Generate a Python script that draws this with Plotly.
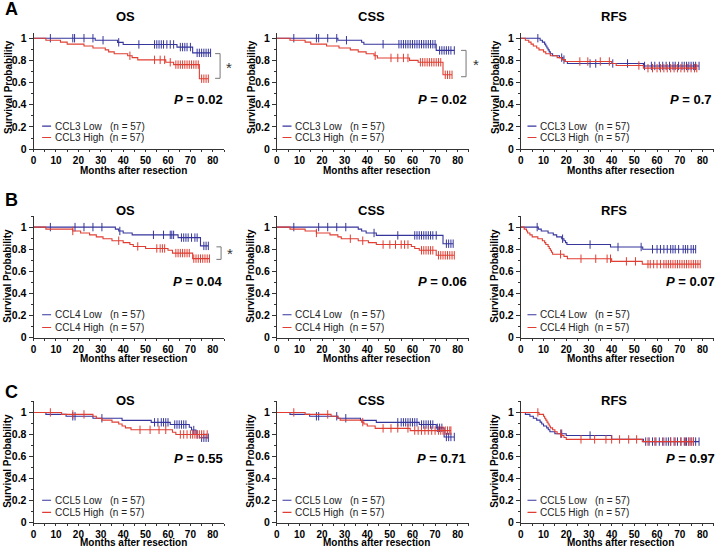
import plotly.graph_objects as go

# ---------------- data (months, survival levels, censor times) ----------------
GENES = ["CCL3", "CCL4", "CCL5"]
ENDPOINTS = ["OS", "CSS", "RFS"]
ROW_LETTERS = ["A", "B", "C"]
P_VALUES = [["0.02", "0.02", "0.7"], ["0.04", "0.06", "0.07"], ["0.55", "0.71", "0.97"]]
X_TICKS = [0, 10, 20, 30, 40, 50, 60, 70, 80]
Y_TICKS = [0, 0.2, 0.4, 0.6, 0.8, 1]

# Row A: CCL3
A_OS_low_t = [27.5, 37.5, 40, 64, 71]
A_OS_low_s = [0.982, 0.963, 0.944, 0.92, 0.868]
A_OS_low_c = [7.5, 17.5, 18.3, 22.5, 26.5, 31, 38, 47, 54, 55, 56, 57, 58, 59.5, 61, 62.5, 65.5, 66.5, 67.5, 68.5, 70, 73, 74, 75, 76, 77, 78, 79]
A_OS_high_t = [5.5, 12, 15, 22.5, 26.5, 32, 33.5, 36, 42, 44, 46.5, 59, 62.5, 74]
A_OS_high_s = [0.982, 0.965, 0.947, 0.93, 0.912, 0.895, 0.877, 0.86, 0.842, 0.825, 0.805, 0.783, 0.762, 0.635]
A_OS_high_c = [43, 54, 56.5, 58.5, 61, 63.5, 64.5, 65.5, 66.5, 67.5, 68.5, 69.5, 70.5, 71.5, 72.5, 73.5, 75, 76, 77, 78]

A_CSS_low_t = [27, 37.5, 38.5, 70.5]
A_CSS_low_s = [0.982, 0.964, 0.946, 0.89]
A_CSS_low_c = [7.5, 17.5, 18.5, 22.5, 26.5, 30.8, 47, 54, 55, 56, 57, 58, 59, 60, 61, 62, 63, 64, 65, 66, 67, 68, 69, 70, 72, 73, 74, 75, 76, 77, 78.5]
A_CSS_high_t = [5.8, 12.5, 15, 22, 27.5, 32.5, 36, 39.5, 43, 44.5, 58.7, 62.5, 73.5]
A_CSS_high_s = [0.982, 0.965, 0.947, 0.93, 0.912, 0.895, 0.877, 0.86, 0.842, 0.822, 0.80, 0.783, 0.67]
A_CSS_high_c = [43.5, 50.5, 53.5, 56, 58, 63.5, 64.5, 65.5, 66.5, 67.5, 68.5, 69.5, 70.5, 71.5, 72.5, 74.5, 75.5, 76.5, 77.5]

A_RFS_low_t = [8.5, 9.5, 10.5, 11, 11.5, 12, 12.5, 13, 14, 17, 18.5, 19.5, 20.5, 54]
A_RFS_low_s = [0.982, 0.965, 0.947, 0.93, 0.912, 0.895, 0.877, 0.86, 0.842, 0.825, 0.807, 0.79, 0.772, 0.75]
A_RFS_low_c = [7.5, 18, 19, 30.5, 33, 40.5, 47, 54.5, 57.5, 59, 61, 62.5, 64, 65.5, 67, 68, 69.5, 71, 72, 73, 74, 75, 76, 77, 78.5]
A_RFS_high_t = [2, 3.5, 4.5, 5.5, 7, 8, 10, 11, 13, 16, 18, 19.5, 40, 42, 54]
A_RFS_high_s = [0.982, 0.965, 0.947, 0.93, 0.912, 0.895, 0.877, 0.86, 0.842, 0.825, 0.807, 0.79, 0.772, 0.754, 0.73]
A_RFS_high_c = [26, 29.5, 35, 39, 52, 56, 58, 60, 61.5, 63, 64.5, 66, 67.5, 69, 70.5, 72, 73.5, 75, 76.5, 77.5]

# Row B: CCL4
B_OS_low_t = [36.5, 38, 40, 44, 64.5, 74.5]
B_OS_low_s = [0.982, 0.965, 0.947, 0.93, 0.905, 0.83]
B_OS_low_c = [7.5, 18.5, 22.5, 26.5, 30.5, 38.5, 53.5, 58, 61, 61.7, 62.5, 66, 67, 68, 69, 70.5, 72, 73, 76, 77, 78]
B_OS_high_t = [5.5, 17.5, 21, 25, 28, 31, 35, 40, 43, 44.5, 50, 60, 62, 71]
B_OS_high_s = [0.982, 0.965, 0.947, 0.93, 0.912, 0.895, 0.877, 0.86, 0.842, 0.825, 0.807, 0.79, 0.765, 0.715]
B_OS_high_c = [17.5, 38, 46.5, 55, 56.5, 57.5, 58.5, 63.5, 64.5, 65.5, 66.5, 67.5, 68.5, 69.5, 71.5, 72.5, 73.5, 74.5, 75.5, 76.5, 77.5, 78.5]

B_CSS_low_t = [36, 37.5, 39.5, 44, 73.5]
B_CSS_low_s = [0.982, 0.965, 0.947, 0.925, 0.85]
B_CSS_low_c = [7.5, 18.5, 22.5, 26.5, 30.5, 43, 53.5, 61, 62, 63, 64, 65, 66, 67, 68, 69, 70.5, 75, 76, 77, 78]
B_CSS_high_t = [5.8, 12.5, 17.5, 23.5, 27, 28.5, 36, 40.5, 44, 59.5, 61, 63, 70.5]
B_CSS_high_s = [0.982, 0.965, 0.947, 0.93, 0.912, 0.895, 0.877, 0.86, 0.842, 0.825, 0.807, 0.79, 0.745]
B_CSS_high_c = [17.5, 32.5, 38, 47, 50, 52.5, 55, 56.5, 58, 64, 65, 66, 67, 68, 69, 71.5, 72.5, 73.5, 74.5, 75.5, 76.5, 77.5, 78.5]

B_RFS_low_t = [7.7, 9, 12, 14.3, 15.8, 18, 19, 19.7, 20.3, 39.5, 53.7]
B_RFS_low_s = [0.982, 0.965, 0.947, 0.93, 0.912, 0.895, 0.877, 0.86, 0.842, 0.82, 0.80]
B_RFS_low_c = [7.2, 18.4, 30.5, 42.8, 53, 58, 60, 61.5, 63, 64.5, 66, 67, 68, 69.5, 71.5, 72.5, 73.5, 75, 76, 77]
B_RFS_high_t = [1.5, 2.5, 3, 4, 5, 7.5, 9.5, 10.5, 11, 12, 12.5, 13, 13.5, 14, 19, 20.5, 40, 53.5]
B_RFS_high_s = [0.982, 0.965, 0.947, 0.93, 0.912, 0.895, 0.877, 0.86, 0.842, 0.825, 0.807, 0.79, 0.772, 0.754, 0.735, 0.714, 0.69, 0.665]
B_RFS_high_c = [17.5, 26.5, 33, 38, 39.5, 46.5, 50.5, 56, 57, 58.5, 60, 61.5, 63, 64, 65, 66, 67, 68, 69, 70, 71, 72, 73, 74, 75, 76, 77, 78, 79]

# Row C: CCL5
C_OS_low_t = [5.5, 14.5, 26.5, 39.5, 52.5, 61, 69.5, 70.5, 72.5, 74]
C_OS_low_s = [0.982, 0.965, 0.947, 0.928, 0.91, 0.89, 0.865, 0.84, 0.80, 0.77]
C_OS_low_c = [17.5, 18.5, 30.5, 54, 55.5, 57, 58, 59, 60, 63, 64, 65, 66, 67, 68, 71.5, 73, 75, 76, 77, 78]
C_OS_high_t = [12.5, 26.5, 28, 30.5, 35, 38, 39.5, 41, 43.5, 62, 63.5]
C_OS_high_s = [0.982, 0.965, 0.947, 0.93, 0.912, 0.895, 0.877, 0.86, 0.842, 0.82, 0.80]
C_OS_high_c = [7.5, 17.5, 22.5, 47.5, 52, 56, 59, 65.5, 67, 68.5, 70, 71, 72, 73, 74, 75, 76, 77.5]

C_CSS_low_t = [5.8, 14.5, 27, 37, 44, 63, 70.5, 74]
C_CSS_low_s = [0.982, 0.965, 0.947, 0.928, 0.91, 0.89, 0.86, 0.777]
C_CSS_low_c = [17.5, 18.5, 26.5, 30.5, 53.5, 55, 56, 57, 58, 59, 60, 61, 62, 64, 65, 66, 67, 68, 69, 71, 72, 73, 75, 76, 77, 78.5]
C_CSS_high_t = [12.5, 24, 27, 28, 37.5, 38.5, 40, 43.5, 59]
C_CSS_high_s = [0.982, 0.965, 0.947, 0.93, 0.912, 0.895, 0.877, 0.855, 0.835]
C_CSS_high_c = [7.5, 22.5, 38, 47, 50.5, 53.5, 58, 61, 62.5, 64, 65.5, 67, 68.5, 70, 71.5, 72.5, 73.5, 74.5, 75.5, 76.5, 77]

C_RFS_low_t = [2, 4, 5.5, 7, 8.5, 9.2, 10, 11.4, 12.1, 12.8, 15, 20, 40, 54]
C_RFS_low_s = [0.982, 0.965, 0.947, 0.93, 0.912, 0.895, 0.877, 0.86, 0.842, 0.825, 0.807, 0.79, 0.755, 0.735]
C_RFS_low_c = [18, 30.5, 55, 56.5, 58, 59.5, 61, 62.5, 64, 65, 66, 67.5, 69, 70.5, 72, 73, 74, 75, 76, 77, 78.5]
C_RFS_high_t = [8, 10, 10.5, 11, 11.5, 12, 12.5, 13, 14, 15, 16, 18, 19, 20, 53.5]
C_RFS_high_s = [0.982, 0.965, 0.947, 0.93, 0.912, 0.895, 0.877, 0.86, 0.842, 0.825, 0.807, 0.79, 0.772, 0.755, 0.735]
C_RFS_high_c = [7.5, 17.5, 26.5, 32.5, 37.5, 40, 43.5, 47.5, 51, 56, 59, 63, 66, 68, 70.5, 72.5, 74, 75, 76]

PANELS = [
    [(A_OS_low_t, A_OS_low_s, A_OS_low_c, A_OS_high_t, A_OS_high_s, A_OS_high_c),
     (A_CSS_low_t, A_CSS_low_s, A_CSS_low_c, A_CSS_high_t, A_CSS_high_s, A_CSS_high_c),
     (A_RFS_low_t, A_RFS_low_s, A_RFS_low_c, A_RFS_high_t, A_RFS_high_s, A_RFS_high_c)],
    [(B_OS_low_t, B_OS_low_s, B_OS_low_c, B_OS_high_t, B_OS_high_s, B_OS_high_c),
     (B_CSS_low_t, B_CSS_low_s, B_CSS_low_c, B_CSS_high_t, B_CSS_high_s, B_CSS_high_c),
     (B_RFS_low_t, B_RFS_low_s, B_RFS_low_c, B_RFS_high_t, B_RFS_high_s, B_RFS_high_c)],
    [(C_OS_low_t, C_OS_low_s, C_OS_low_c, C_OS_high_t, C_OS_high_s, C_OS_high_c),
     (C_CSS_low_t, C_CSS_low_s, C_CSS_low_c, C_CSS_high_t, C_CSS_high_s, C_CSS_high_c),
     (C_RFS_low_t, C_RFS_low_s, C_RFS_low_c, C_RFS_high_t, C_RFS_high_s, C_RFS_high_c)],
]

# ---------------- layout geometry (pixels) ----------------
W, H = 716, 553
BLUE = "#35359c"
RED = "#e03e33"
AXC = "#333333"
FONT = "Liberation Sans"

COL_X0 = [30.7, 275.0, 520.0]       # pixel of month 0
COL_K = [2.25, 2.27, 2.28]          # px per month
ROW_Y0 = [150.0, 341.0, 528.2]      # pixel of survival 0
ROW_K = [112.3, 112.0, 111.5]       # px per unit
ROW_TOP = [1.05, 1.1, 1.1]
XMAX = 85

TITLE_Y = [16, 211.7, 404.3]
TITLE_X = [123, 370, 614]
YLAB_X = [5, 249, 494]
XLAB_X = [130.7, 375.3, 620.5]
XLAB_Y = [172.0, 362.0, 548.6]
LETTER_Y = [8.5, 201.5, 396]
P_Y = [0.45, 0.51, 0.58]
P_X = [[85.3, 84.9, 85.2], [85.3, 84.9, 86.2], [85.3, 84.6, 86.2]]
LEG_OFF = [8.6, 5.7, 6.7]
LEG_Y = [[0.207, 0.104], [0.208, 0.092], [0.202, 0.092]]


def px(xp):
    return xp / W


def py(yp):
    return 1 - yp / H


def step_level(times, levels, t):
    v = 1.0
    for ti, si in zip(times, levels):
        if ti <= t:
            v = si
    return v


fig = go.Figure()
annotations = []
shapes = []

for r in range(3):
    for c in range(3):
        n = r * 3 + 1 + c
        xa = "x" if n == 1 else f"x{n}"
        ya = "y" if n == 1 else f"y{n}"
        x0 = COL_X0[c]
        k = COL_K[c]
        y0 = ROW_Y0[r]
        ky = ROW_K[r]
        dom_x = [px(x0), px(x0 + XMAX * k)]
        dom_y = [py(y0), py(y0 - ROW_TOP[r] * ky)]
        common = dict(showgrid=False, zeroline=False, showline=True, linecolor=AXC, linewidth=1,
                      ticks="outside", tickcolor=AXC, tickwidth=1)
        fig.layout[f"xaxis{'' if n == 1 else n}"] = dict(
            domain=dom_x, range=[0, XMAX], anchor=ya, tickvals=X_TICKS, ticklen=2,
            tickfont=dict(family=FONT, size=10, color="black", weight="bold"),
            minor=dict(dtick=5, tick0=0, ticks="outside", ticklen=2, tickcolor=AXC), **common)
        fig.layout[f"yaxis{'' if n == 1 else n}"] = dict(
            domain=dom_y, range=[0, ROW_TOP[r]], anchor=xa, tickvals=Y_TICKS, ticklen=4,
            tickfont=dict(family=FONT, size=10.5, color="black", weight="bold"),
            minor=dict(dtick=0.1, tick0=0, ticks="outside", ticklen=2, tickcolor=AXC), **common)

        lt, ls, lc, ht, hs, hc = PANELS[r][c]
        for times, levels, cens, col in [(lt, ls, lc, BLUE), (ht, hs, hc, RED)]:
            end = max(max(cens), max(times))
            xs = [0] + list(times) + [end]
            ys = [1.0] + list(levels) + [levels[-1]]
            fig.add_trace(go.Scatter(x=xs, y=ys, mode="lines", line=dict(color=col, width=1.1, shape="hv"),
                                     xaxis=xa, yaxis=ya, showlegend=False, hoverinfo="skip"))
            cy = [step_level(times, levels, t) for t in cens]
            fig.add_trace(go.Scatter(x=cens, y=cy, mode="markers",
                                     marker=dict(symbol="line-ns", size=6, line=dict(width=1, color=col)),
                                     xaxis=xa, yaxis=ya, showlegend=False, hoverinfo="skip", cliponaxis=False))

        # title
        annotations.append(dict(x=px(TITLE_X[c]), y=py(TITLE_Y[r]), xref="paper", yref="paper",
                                text=f"<b>{ENDPOINTS[c]}</b>", showarrow=False,
                                font=dict(family=FONT, size=13, color="black"),
                                xanchor="center", yanchor="middle"))
        # axis titles
        annotations.append(dict(x=px(YLAB_X[c]), y=py(y0 - 0.56 * ky), xref="paper", yref="paper",
                                text="<b>Survival Probability</b>", showarrow=False, textangle=-90,
                                font=dict(family=FONT, size=10, color="black"),
                                xanchor="center", yanchor="middle"))
        annotations.append(dict(x=px(XLAB_X[c]), y=py(XLAB_Y[r]), xref="paper", yref="paper",
                                text="<b>Months after resection</b>", showarrow=False,
                                font=dict(family=FONT, size=10, color="black"),
                                xanchor="center", yanchor="middle"))
        # p value (paper coords so it is never hidden)
        annotations.append(dict(x=px(x0 + P_X[r][c] * k), y=py(y0 - P_Y[r] * ky), xref="paper", yref="paper",
                                text=f"<b><i>P</i> = {P_VALUES[r][c]}</b>", showarrow=False,
                                font=dict(family=FONT, size=13, color="black"),
                                xanchor="right", yanchor="middle"))
        # legend
        for (lab, sp, col, yy) in [("Low", "\u00a0\u00a0\u00a0", BLUE, LEG_Y[r][0]),
                                   ("High", "\u00a0\u00a0", RED, LEG_Y[r][1])]:
            m0 = LEG_OFF[c] / k
            m1 = (LEG_OFF[c] + 9) / k
            shapes.append(dict(type="line", xref=xa, yref=ya, x0=m0, x1=m1, y0=yy, y1=yy,
                               line=dict(color=col, width=1.1)))
            annotations.append(dict(x=px(x0 + LEG_OFF[c] + 10.5), y=py(y0 - yy * ky), xref="paper", yref="paper",
                                    text=f"{GENES[r]} {lab}{sp}(n = 57)", showarrow=False,
                                    font=dict(family=FONT, size=10, color="#222222"),
                                    xanchor="left", yanchor="middle"))

    annotations.append(dict(x=px(0), y=py(LETTER_Y[r]), xref="paper", yref="paper",
                            text=f"<b>{ROW_LETTERS[r]}</b>", showarrow=False,
                            font=dict(family=FONT, size=18, color="black"),
                            xanchor="left", yanchor="middle"))

# significance brackets (pixel positions)
BRACKETS = [(218.0, 213.0, 53.3, 78.3, 227.0, 67.0),
            (465.0, 460.0, 50.0, 76.7, 474.5, 64.0),
            (219.0, 214.3, 249.0, 261.7, 228.0, 256.0)]
for (xv, xl, yt, yb, sx, sy) in BRACKETS:
    for (a0, a1, b0, b1) in [(xv, xv, yt, yb), (xl, xv, yt, yt), (xl, xv, yb, yb)]:
        shapes.append(dict(type="line", xref="paper", yref="paper",
                           x0=px(a0), x1=px(a1), y0=py(b0), y1=py(b1),
                           line=dict(color="#777777", width=1)))
    annotations.append(dict(x=px(sx), y=py(sy), xref="paper", yref="paper", text="*",
                            showarrow=False, font=dict(family=FONT, size=15, color="#333333"),
                            xanchor="center", yanchor="middle"))

fig.update_layout(width=W, height=H, margin=dict(l=0, r=0, t=0, b=0),
                  paper_bgcolor="white", plot_bgcolor="white",
                  annotations=annotations, shapes=shapes, showlegend=False)

fig.write_html("out.html", config={"displayModeBar": False},
               post_script="document.body.style.margin='0px';document.body.style.overflow='hidden';")
